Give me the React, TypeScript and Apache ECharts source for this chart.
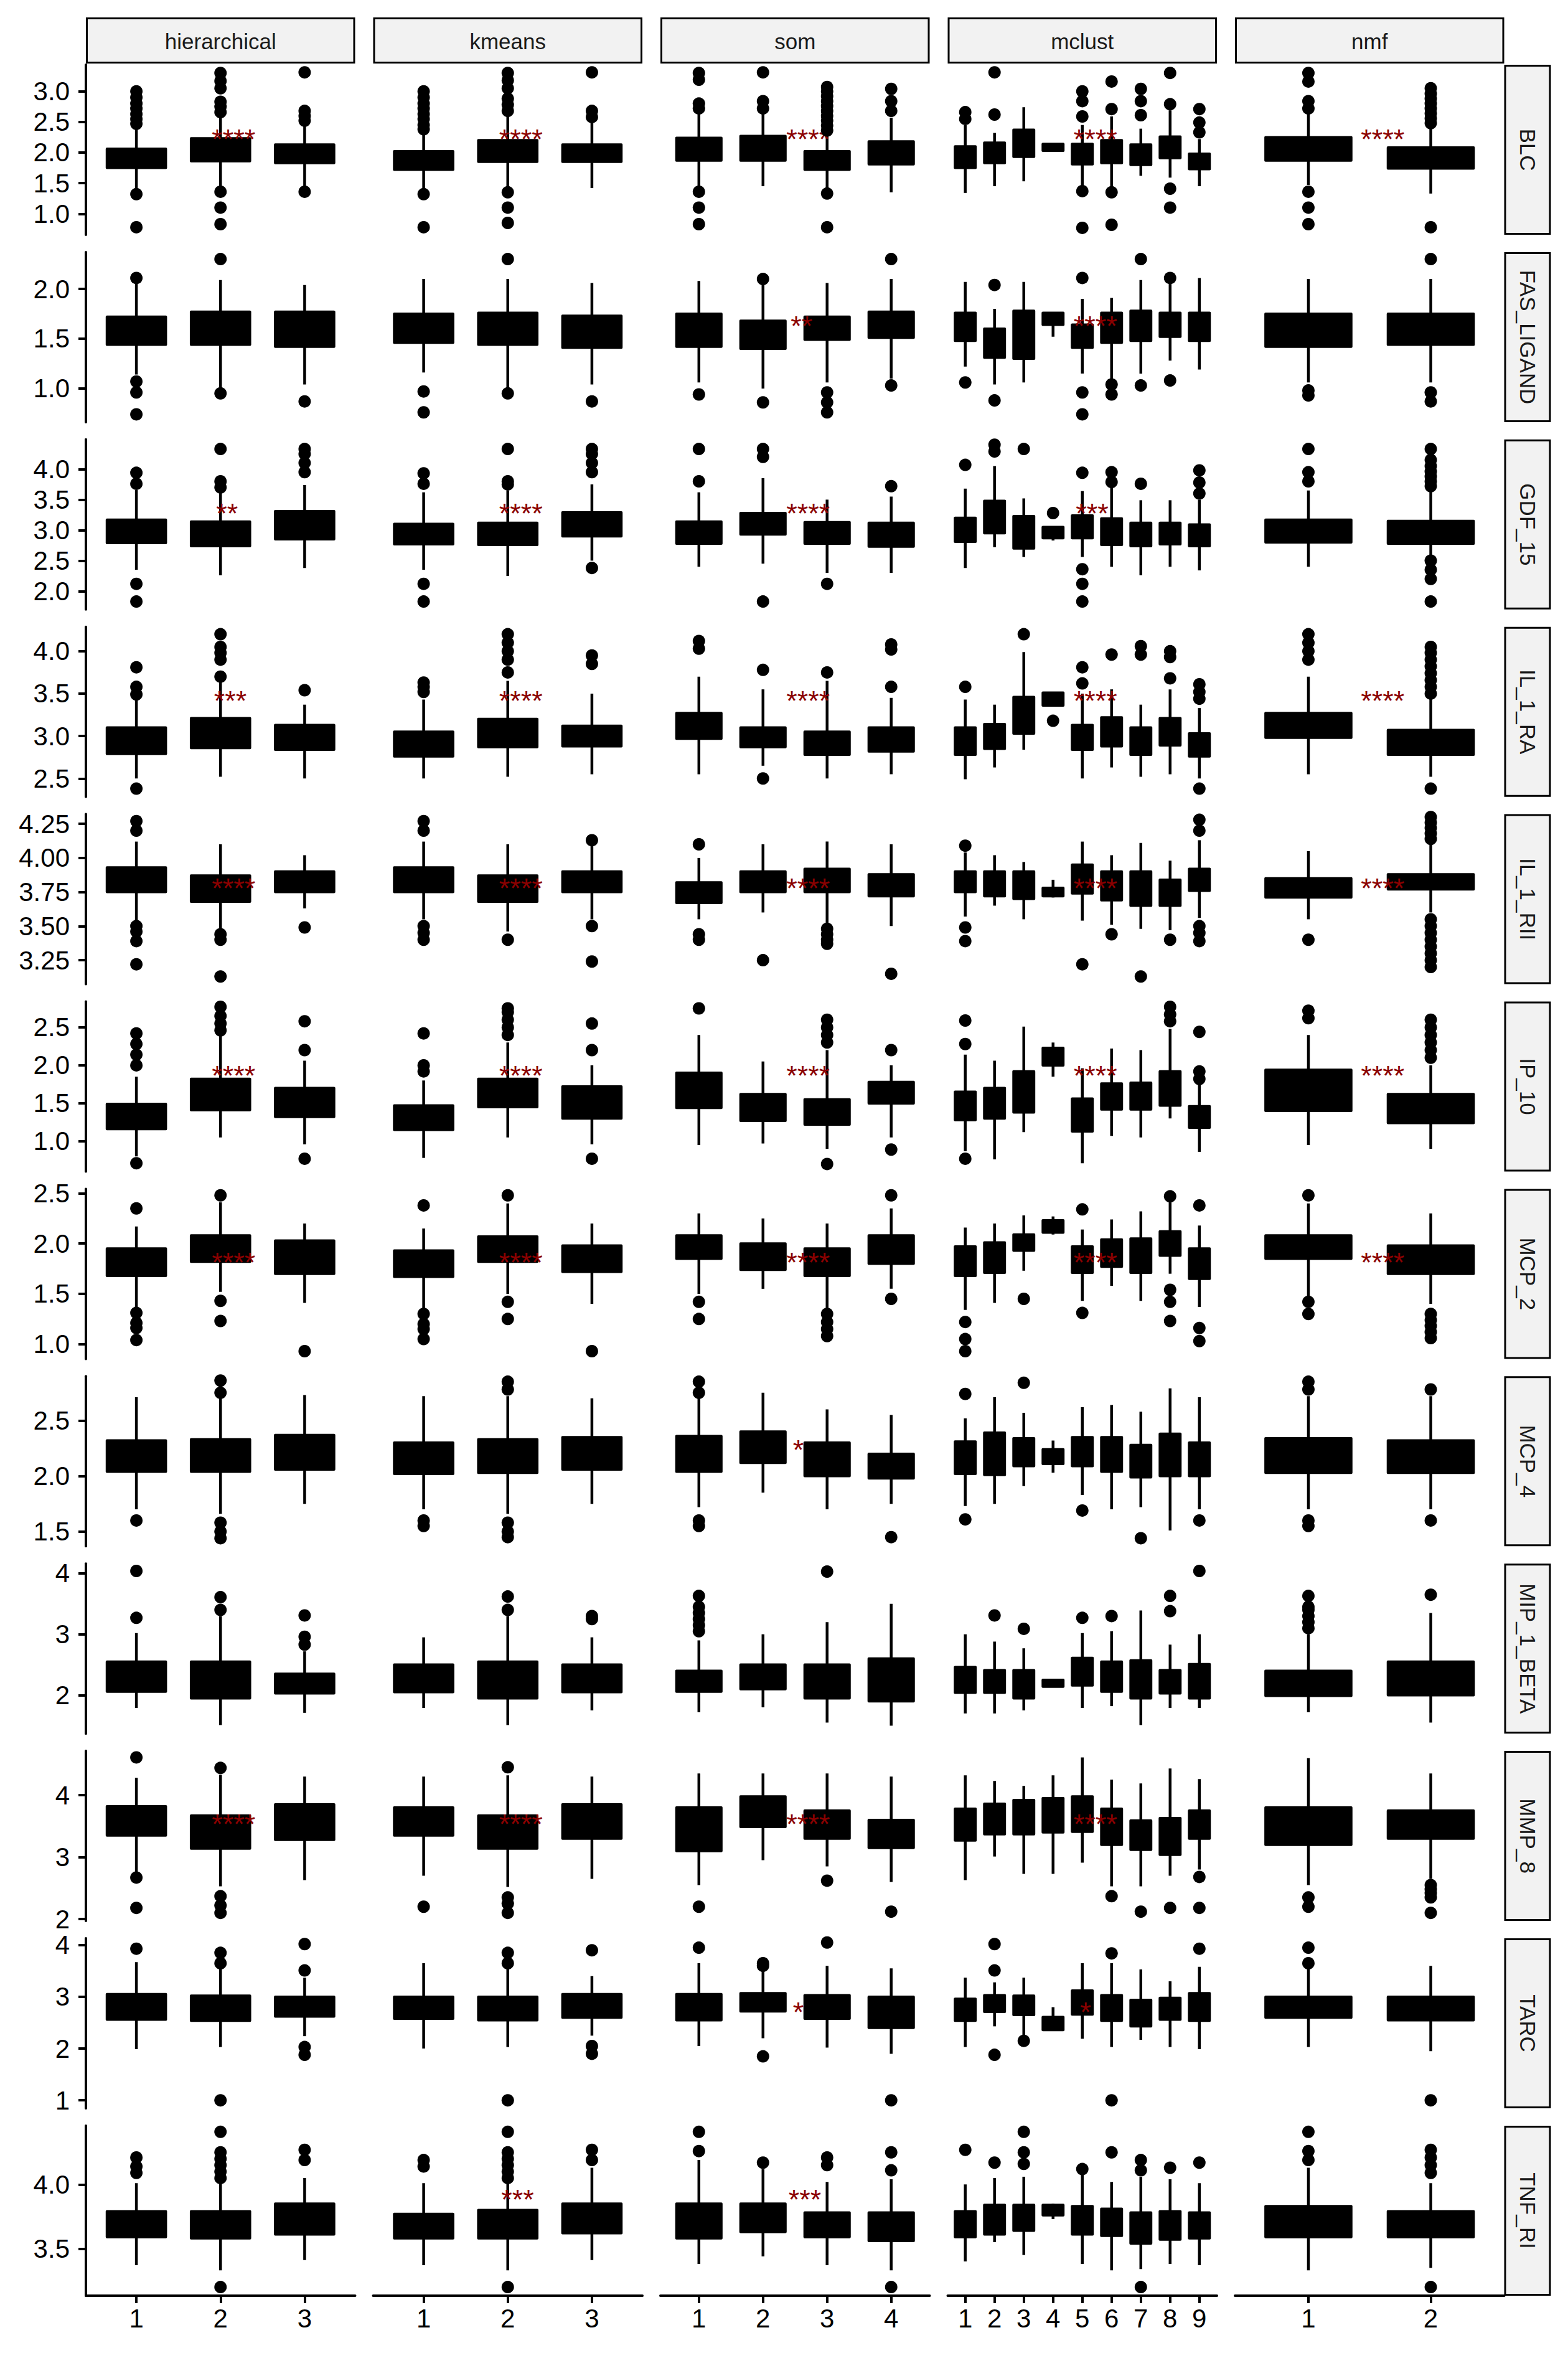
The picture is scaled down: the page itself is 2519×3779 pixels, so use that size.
import React, { useEffect, useRef } from "react";
import * as echarts from "echarts";

// ---------- categories ----------
const methods = ["hierarchical", "kmeans", "som", "mclust", "nmf"];
const groupCounts = [3, 3, 4, 9, 2];
const markers = ["BLC", "FAS_LIGAND", "GDF_15", "IL_1_RA", "IL_1_RII", "IP_10", "MCP_2", "MCP_4", "MIP_1_BETA", "MMP_8", "TARC", "TNF_RI"];

// ---------- y scales (per marker row) ----------
const yMin = [0.657, 0.662, 1.70, 2.284, 3.074, 0.601, 0.853, 1.368, 1.369, 1.970, 0.846, 3.133];
const yMax = [3.434, 2.370, 4.486, 4.287, 4.321, 2.840, 2.544, 2.899, 4.161, 4.714, 4.131, 4.458];
const yTicks = [
  [1.0, 1.5, 2.0, 2.5, 3.0],
  [1.0, 1.5, 2.0],
  [2.0, 2.5, 3.0, 3.5, 4.0],
  [2.5, 3.0, 3.5, 4.0],
  [3.25, 3.5, 3.75, 4.0, 4.25],
  [1.0, 1.5, 2.0, 2.5],
  [1.0, 1.5, 2.0, 2.5],
  [1.5, 2.0, 2.5],
  [2, 3, 4],
  [2, 3, 4],
  [1, 2, 3, 4],
  [3.5, 4.0],
];
const yDecimals = [1, 1, 1, 1, 2, 1, 1, 1, 0, 0, 0, 1];

// ---------- box stats: [lower whisker, Q1, Q3, upper whisker] per method / group ----------
const BLC_box = [
  [[1.42, 1.75, 2.06, 2.42], [1.45, 1.86, 2.23, 2.60], [1.43, 1.83, 2.13, 2.45]],
  [[1.40, 1.72, 2.02, 2.30], [1.45, 1.85, 2.20, 2.60], [1.42, 1.85, 2.13, 2.50]],
  [[1.45, 1.87, 2.24, 2.62], [1.45, 1.87, 2.27, 2.63], [1.43, 1.72, 2.02, 2.30], [1.35, 1.81, 2.18, 2.57]],
  [[1.34, 1.75, 2.10, 2.45], [1.45, 1.83, 2.16, 2.32], [1.53, 1.93, 2.37, 2.74], [2.02, 2.03, 2.14, 2.15], [1.45, 1.81, 2.14, 2.45], [1.43, 1.83, 2.20, 2.59], [1.62, 1.80, 2.13, 2.39], [1.59, 1.91, 2.26, 2.69], [1.45, 1.73, 1.98, 2.22]],
  [[1.47, 1.87, 2.25, 2.65], [1.33, 1.74, 2.08, 2.43]],
];
const BLC_out = [
  [[2.47, 2.55, 2.63, 2.72, 2.80, 2.90, 3.00, 1.32, 0.78], [2.66, 2.75, 2.83, 3.05, 3.17, 3.30, 1.36, 1.10, 0.83], [2.52, 2.60, 2.68, 3.31, 1.36]],
  [[2.38, 2.45, 2.55, 2.63, 2.72, 2.80, 2.90, 3.00, 1.32, 0.78], [2.68, 2.78, 2.88, 3.05, 3.18, 3.30, 1.35, 1.10, 0.85], [2.58, 2.68, 3.31]],
  [[2.72, 2.80, 3.19, 3.30, 1.36, 1.10, 0.83], [2.72, 2.84, 3.31], [2.36, 2.44, 2.52, 2.60, 2.68, 2.76, 2.84, 2.92, 3.00, 3.07, 1.33, 0.78], [2.68, 2.84, 3.04]],
  [[2.55, 2.66], [2.62, 3.31], [], [], [2.59, 2.84, 3.00, 1.37, 0.77], [2.71, 3.16, 1.35, 0.82], [2.61, 2.84, 3.04], [2.79, 3.30, 1.41, 1.10], [2.33, 2.49, 2.71]],
  [[2.72, 2.84, 3.16, 3.30, 1.36, 1.10, 0.83], [2.48, 2.56, 2.64, 2.72, 2.80, 2.88, 2.96, 3.05, 0.78]],
];

const FAS_box = [
  [[1.14, 1.44, 1.72, 2.06], [1.00, 1.44, 1.77, 2.09], [1.04, 1.42, 1.77, 2.04]],
  [[1.16, 1.46, 1.75, 2.10], [1.00, 1.44, 1.76, 2.10], [1.04, 1.41, 1.73, 2.06]],
  [[1.06, 1.42, 1.75, 2.08], [1.00, 1.40, 1.68, 2.05], [1.06, 1.49, 1.72, 2.06], [1.10, 1.51, 1.77, 2.10]],
  [[1.22, 1.48, 1.76, 2.07], [1.04, 1.31, 1.60, 1.80], [1.06, 1.30, 1.78, 2.07], [1.52, 1.64, 1.76, 1.76], [1.15, 1.41, 1.64, 1.90], [1.08, 1.46, 1.76, 1.91], [1.15, 1.48, 1.78, 2.09], [1.28, 1.52, 1.76, 2.05], [1.19, 1.48, 1.76, 2.11]],
  [[1.06, 1.42, 1.75, 2.10], [1.06, 1.44, 1.75, 2.10]],
];
const FAS_out = [
  [[2.11, 1.07, 0.96, 0.74], [2.30, 0.95], [0.87]],
  [[0.97, 0.76], [2.30, 0.95], [0.87]],
  [[0.94], [2.10, 0.86], [0.96, 0.86, 0.76], [2.30, 1.03]],
  [[1.06], [2.04, 0.88], [], [], [2.11, 0.96, 0.74], [1.04, 0.94], [2.30, 1.03], [2.11, 1.08], []],
  [[0.98, 0.93], [2.30, 0.96, 0.87]],
];

const GDF_box = [
  [[2.35, 2.79, 3.17, 3.66], [2.26, 2.74, 3.14, 3.66], [2.38, 2.85, 3.31, 3.74]],
  [[2.35, 2.77, 3.10, 3.62], [2.25, 2.76, 3.12, 3.65], [2.50, 2.90, 3.29, 3.75]],
  [[2.40, 2.78, 3.14, 3.62], [2.45, 2.93, 3.28, 3.85], [2.30, 2.78, 3.13, 3.50], [2.30, 2.73, 3.12, 3.55]],
  [[2.38, 2.81, 3.20, 3.68], [2.72, 2.95, 3.48, 4.05], [2.56, 2.70, 3.23, 3.52], [2.83, 2.87, 3.05, 3.05], [2.56, 2.87, 3.24, 3.64], [2.40, 2.76, 3.19, 3.70], [2.26, 2.74, 3.12, 3.49], [2.40, 2.77, 3.12, 3.49], [2.34, 2.74, 3.09, 3.50]],
  [[2.40, 2.80, 3.17, 3.65], [2.30, 2.78, 3.15, 3.65]],
];
const GDF_out = [
  [[3.76, 3.94, 2.12, 1.83], [3.70, 3.80, 4.33], [3.95, 4.10, 4.25, 4.33]],
  [[3.76, 3.93, 2.12, 1.83], [3.75, 3.80, 4.33], [3.95, 4.10, 4.25, 4.33, 2.38]],
  [[3.80, 4.33], [4.20, 4.33, 1.83], [2.12], [3.72]],
  [[4.07], [4.29, 4.40], [4.33], [3.28], [3.94, 2.36, 2.12, 1.83], [3.79, 3.95], [3.76], [], [3.60, 3.78, 3.98]],
  [[3.80, 3.95, 4.33], [3.72, 3.80, 3.88, 3.96, 4.05, 4.15, 4.33, 2.50, 2.35, 2.20, 1.83]],
];

const IL1RA_box = [
  [[2.50, 2.79, 3.10, 3.44], [2.52, 2.86, 3.21, 3.66], [2.50, 2.84, 3.13, 3.37]],
  [[2.50, 2.76, 3.05, 3.43], [2.52, 2.87, 3.20, 3.65], [2.55, 2.88, 3.12, 3.50]],
  [[2.55, 2.97, 3.27, 3.70], [2.65, 2.87, 3.10, 3.55], [2.50, 2.78, 3.05, 3.65], [2.55, 2.82, 3.10, 3.45]],
  [[2.49, 2.78, 3.10, 3.43], [2.63, 2.85, 3.14, 3.37], [2.84, 3.03, 3.46, 3.99], [3.36, 3.36, 3.51, 3.51], [2.50, 2.84, 3.13, 3.50], [2.63, 2.88, 3.22, 3.55], [2.52, 2.78, 3.10, 3.37], [2.55, 2.89, 3.21, 3.55], [2.50, 2.76, 3.03, 3.33]],
  [[2.55, 2.98, 3.27, 3.70], [2.52, 2.78, 3.07, 3.45]],
];
const IL1RA_out = [
  [[3.49, 3.58, 3.81, 2.38], [3.70, 3.90, 3.98, 4.05, 4.20], [3.54]],
  [[3.52, 3.58, 3.63], [3.75, 3.90, 4.00, 4.10, 4.20], [3.85, 3.95]],
  [[4.03, 4.12], [3.78, 2.50], [3.75], [3.58, 4.02, 4.08]],
  [[3.58], [], [4.20], [3.18], [3.62, 3.81], [3.96], [3.96, 4.06], [3.68, 3.93, 4.00], [3.44, 3.52, 3.61, 2.38]],
  [[3.90, 4.00, 4.10, 4.20], [3.50, 3.58, 3.66, 3.74, 3.82, 3.90, 3.98, 4.05, 2.38]],
];

const IL1RII_box = [
  [[3.54, 3.75, 3.93, 4.12], [3.47, 3.68, 3.87, 4.10], [3.63, 3.75, 3.90, 4.02]],
  [[3.55, 3.75, 3.93, 4.12], [3.46, 3.68, 3.87, 4.10], [3.55, 3.75, 3.90, 4.10]],
  [[3.55, 3.67, 3.82, 4.00], [3.60, 3.75, 3.90, 4.10], [3.52, 3.75, 3.92, 4.12], [3.50, 3.72, 3.88, 4.10]],
  [[3.57, 3.75, 3.90, 4.04], [3.65, 3.72, 3.90, 4.02], [3.55, 3.70, 3.90, 3.97], [3.71, 3.72, 3.78, 3.84], [3.54, 3.74, 3.95, 4.12], [3.51, 3.69, 3.90, 4.02], [3.48, 3.65, 3.90, 4.11], [3.47, 3.65, 3.84, 3.98], [3.56, 3.76, 3.92, 4.13]],
  [[3.55, 3.71, 3.85, 4.05], [3.60, 3.77, 3.88, 4.10]],
];
const IL1RII_out = [
  [[4.20, 4.27, 3.50, 3.46, 3.39, 3.22], [3.44, 3.40, 3.13], [3.49]],
  [[4.20, 4.27, 3.50, 3.45, 3.40], [3.40], [4.13, 3.50, 3.24]],
  [[4.10, 3.44, 3.40], [3.25], [3.48, 3.44, 3.40, 3.37], [3.15]],
  [[4.09, 3.49, 3.39], [], [], [], [3.22], [3.44], [3.13], [3.40], [4.20, 4.28, 3.50, 3.45, 3.39]],
  [[3.40], [4.14, 4.18, 4.22, 4.26, 4.30, 3.55, 3.50, 3.45, 3.40, 3.35, 3.30, 3.25, 3.20]],
];

const IP10_box = [
  [[0.80, 1.16, 1.49, 1.85], [1.05, 1.41, 1.82, 2.40], [0.96, 1.32, 1.70, 2.06]],
  [[0.78, 1.15, 1.47, 1.80], [1.05, 1.45, 1.82, 2.30], [0.96, 1.30, 1.72, 2.00]],
  [[0.95, 1.44, 1.90, 2.40], [0.97, 1.27, 1.62, 2.05], [0.90, 1.22, 1.55, 2.20], [1.05, 1.50, 1.78, 2.00]],
  [[0.87, 1.28, 1.65, 2.14], [0.76, 1.30, 1.70, 2.06], [1.12, 1.38, 1.92, 2.51], [1.85, 2.00, 2.23, 2.30], [0.71, 1.13, 1.56, 1.96], [1.07, 1.42, 1.76, 2.22], [1.05, 1.42, 1.77, 2.20], [1.30, 1.47, 1.92, 2.48], [0.86, 1.18, 1.46, 1.76]],
  [[0.95, 1.40, 1.94, 2.40], [0.90, 1.24, 1.62, 2.00]],
];
const IP10_out = [
  [[2.00, 2.14, 2.28, 2.42, 0.71], [2.46, 2.55, 2.65, 2.77], [2.20, 2.58, 0.77]],
  [[1.92, 2.00, 2.42], [2.40, 2.50, 2.60, 2.70, 2.75], [2.20, 2.55, 0.77]],
  [[2.75], [], [2.30, 2.40, 2.50, 2.60, 0.70], [2.20, 0.89]],
  [[2.28, 2.59, 0.77], [], [], [], [], [], [], [2.58, 2.67, 2.77], [1.82, 1.92, 2.44]],
  [[2.62, 2.72], [2.10, 2.20, 2.30, 2.40, 2.50, 2.60]],
];

const MCP2_box = [
  [[1.35, 1.68, 1.95, 2.17], [1.52, 1.82, 2.08, 2.41], [1.41, 1.70, 2.03, 2.20]],
  [[1.33, 1.67, 1.93, 2.15], [1.50, 1.82, 2.07, 2.40], [1.40, 1.72, 1.98, 2.20]],
  [[1.50, 1.85, 2.08, 2.30], [1.55, 1.74, 2.00, 2.25], [1.35, 1.68, 1.95, 2.20], [1.55, 1.80, 2.08, 2.35]],
  [[1.34, 1.68, 1.97, 2.16], [1.41, 1.71, 2.01, 2.20], [1.73, 1.93, 2.09, 2.28], [2.09, 2.11, 2.23, 2.27], [1.43, 1.71, 1.97, 2.14], [1.58, 1.77, 2.04, 2.24], [1.43, 1.71, 2.05, 2.32], [1.70, 1.88, 2.12, 2.41], [1.37, 1.65, 1.95, 2.18]],
  [[1.48, 1.85, 2.08, 2.40], [1.40, 1.70, 1.98, 2.30]],
];
const MCP2_out = [
  [[2.35, 1.31, 1.21, 1.16, 1.04], [2.48, 1.43, 1.23], [0.93]],
  [[2.38, 1.30, 1.20, 1.15, 1.05], [2.48, 1.42, 1.25], [0.93]],
  [[1.42, 1.25], [], [1.30, 1.22, 1.15, 1.08], [2.48, 1.45]],
  [[1.22, 1.05, 0.93], [], [1.45], [], [2.34, 1.31], [], [], [2.47, 1.54, 1.42, 1.23], [2.38, 1.16, 1.03]],
  [[2.48, 1.42, 1.30], [1.30, 1.24, 1.18, 1.12, 1.06]],
];

const MCP4_box = [
  [[1.70, 2.04, 2.32, 2.71], [1.66, 2.04, 2.33, 2.71], [1.75, 2.06, 2.37, 2.73]],
  [[1.70, 2.02, 2.30, 2.72], [1.66, 2.03, 2.33, 2.72], [1.75, 2.06, 2.35, 2.70]],
  [[1.72, 2.04, 2.36, 2.70], [1.85, 2.12, 2.40, 2.75], [1.70, 2.00, 2.30, 2.60], [1.75, 1.98, 2.20, 2.55]],
  [[1.73, 2.02, 2.31, 2.52], [1.75, 2.01, 2.39, 2.71], [1.91, 2.09, 2.34, 2.57], [2.03, 2.11, 2.24, 2.32], [1.83, 2.09, 2.35, 2.62], [1.70, 2.04, 2.35, 2.64], [1.72, 1.99, 2.28, 2.58], [1.51, 2.00, 2.38, 2.79], [1.70, 2.00, 2.30, 2.71]],
  [[1.70, 2.03, 2.34, 2.72], [1.70, 2.03, 2.32, 2.72]],
];
const MCP4_out = [
  [[1.60], [2.75, 2.86, 1.58, 1.50, 1.44], []],
  [[1.60, 1.55], [2.78, 2.85, 1.58, 1.50, 1.45], []],
  [[2.75, 2.85, 1.60, 1.55], [], [], [1.45]],
  [[2.74, 1.61], [], [2.84], [], [1.69], [], [1.44], [], [1.60]],
  [[2.78, 2.85, 1.60, 1.55], [2.78, 1.60]],
];

const MIP_box = [
  [[1.79, 2.06, 2.55, 3.02], [1.51, 1.95, 2.55, 3.30], [1.71, 2.03, 2.35, 2.72]],
  [[1.79, 2.05, 2.50, 2.95], [1.51, 1.95, 2.55, 3.30], [1.75, 2.05, 2.50, 2.95]],
  [[1.72, 2.06, 2.40, 2.90], [1.80, 2.10, 2.50, 3.00], [1.55, 1.95, 2.50, 3.20], [1.50, 1.90, 2.60, 3.50]],
  [[1.70, 2.04, 2.46, 3.00], [1.70, 2.04, 2.41, 2.88], [1.75, 1.95, 2.41, 2.77], [2.14, 2.14, 2.25, 2.25], [1.79, 2.16, 2.61, 3.02], [1.82, 2.06, 2.55, 3.05], [1.51, 1.95, 2.57, 3.39], [1.79, 2.03, 2.41, 2.83], [1.79, 1.95, 2.51, 3.00]],
  [[1.72, 1.99, 2.40, 3.00], [1.55, 2.00, 2.55, 3.35]],
];
const MIP_out = [
  [[3.27, 4.04], [3.40, 3.61], [2.83, 2.96, 3.31]],
  [[], [3.40, 3.62], [3.25, 3.30]],
  [[3.05, 3.15, 3.25, 3.35, 3.45, 3.63], [], [4.03], []],
  [[], [3.31], [3.09], [], [3.27], [3.30], [], [3.38, 3.63], [4.04]],
  [[3.10, 3.20, 3.30, 3.40, 3.45, 3.63], [3.65]],
];

const MMP8_box = [
  [[2.70, 3.35, 3.82, 4.28], [2.53, 3.14, 3.67, 4.33], [2.63, 3.28, 3.85, 4.30]],
  [[2.70, 3.35, 3.80, 4.30], [2.52, 3.14, 3.67, 4.32], [2.65, 3.30, 3.85, 4.30]],
  [[2.55, 3.10, 3.80, 4.35], [2.95, 3.49, 3.98, 4.35], [2.85, 3.30, 3.75, 4.35], [2.60, 3.15, 3.60, 4.30]],
  [[2.63, 3.27, 3.78, 4.32], [3.01, 3.37, 3.86, 4.23], [2.73, 3.37, 3.92, 4.15], [2.73, 3.40, 3.95, 4.32], [2.91, 3.41, 3.98, 4.61], [2.53, 3.20, 3.78, 4.25], [2.53, 3.12, 3.59, 4.19], [2.70, 3.04, 3.63, 4.43], [2.80, 3.30, 3.75, 4.26]],
  [[2.55, 3.20, 3.80, 4.60], [2.65, 3.30, 3.75, 4.35]],
];
const MMP8_out = [
  [[4.61, 2.67, 2.18], [4.44, 2.37, 2.22, 2.10], []],
  [[2.20], [4.45, 2.35, 2.25, 2.10], []],
  [[2.20], [], [2.62], [2.12]],
  [[], [], [], [], [], [2.37], [2.12], [2.18], [2.68, 2.18]],
  [[2.35, 2.20], [2.55, 2.48, 2.42, 2.35, 2.10]],
];

const TARC_box = [
  [[1.99, 2.56, 3.05, 3.67], [2.03, 2.54, 3.02, 3.56], [2.24, 2.62, 3.00, 3.37]],
  [[2.00, 2.58, 3.00, 3.65], [2.03, 2.55, 3.00, 3.55], [2.25, 2.60, 3.05, 3.40]],
  [[2.05, 2.55, 3.05, 3.65], [2.20, 2.72, 3.07, 3.50], [2.02, 2.58, 3.03, 3.60], [1.90, 2.40, 3.00, 3.55]],
  [[2.03, 2.54, 2.96, 3.37], [2.43, 2.71, 3.03, 3.28], [2.13, 2.65, 3.02, 3.37], [2.36, 2.36, 2.61, 2.80], [2.19, 2.66, 3.12, 3.65], [2.03, 2.54, 3.03, 3.65], [2.17, 2.43, 2.94, 3.53], [2.03, 2.56, 2.98, 3.30], [1.99, 2.54, 3.07, 3.58]],
  [[2.03, 2.60, 3.00, 3.55], [1.95, 2.55, 3.00, 3.60]],
];
const TARC_out = [
  [[3.93], [3.65, 3.85, 1.00], [3.51, 4.02, 2.03, 1.88]],
  [[], [3.65, 3.85, 1.00], [3.90, 2.05, 1.90]],
  [[3.95], [3.60, 3.65, 1.85], [4.05], [1.00]],
  [[], [3.51, 4.02, 1.88], [2.15], [], [], [3.84, 1.00], [], [], [3.93]],
  [[3.65, 3.95], [1.00]],
];

const TNF_box = [
  [[3.37, 3.59, 3.79, 4.01], [3.33, 3.58, 3.79, 4.04], [3.41, 3.61, 3.85, 4.05]],
  [[3.37, 3.58, 3.77, 4.01], [3.33, 3.58, 3.80, 4.04], [3.41, 3.62, 3.85, 4.13]],
  [[3.38, 3.58, 3.85, 4.19], [3.44, 3.63, 3.85, 4.12], [3.37, 3.59, 3.78, 4.02], [3.33, 3.56, 3.78, 4.04]],
  [[3.40, 3.59, 3.79, 4.00], [3.55, 3.61, 3.84, 4.05], [3.45, 3.64, 3.84, 4.06], [3.73, 3.76, 3.84, 3.85], [3.38, 3.61, 3.83, 4.08], [3.33, 3.60, 3.81, 4.02], [3.34, 3.54, 3.78, 4.06], [3.38, 3.57, 3.79, 4.04], [3.37, 3.58, 3.78, 4.01]],
  [[3.33, 3.59, 3.83, 4.13], [3.35, 3.59, 3.79, 4.01]],
];
const TNF_out = [
  [[4.09, 4.14, 4.21], [4.05, 4.10, 4.15, 4.20, 4.25, 4.41, 3.20], [4.19, 4.27]],
  [[4.14, 4.19], [4.05, 4.10, 4.15, 4.20, 4.25, 4.41, 3.20], [4.19, 4.27]],
  [[4.26, 4.41], [4.17], [4.15, 4.21], [4.11, 4.25, 3.20]],
  [[4.27], [4.17], [4.16, 4.25, 4.41], [], [4.12], [4.25], [4.11, 4.19, 3.20], [4.13], [4.17]],
  [[4.19, 4.26, 4.41], [4.09, 4.15, 4.21, 4.27, 3.20]],
];

const boxRows = [BLC_box, FAS_box, GDF_box, IL1RA_box, IL1RII_box, IP10_box, MCP2_box, MCP4_box, MIP_box, MMP8_box, TARC_box, TNF_box];
const outRows = [BLC_out, FAS_out, GDF_out, IL1RA_out, IL1RII_out, IP10_out, MCP2_out, MCP4_out, MIP_out, MMP8_out, TARC_out, TNF_out];

// ---------- significance labels ----------
const starLabels = [
  ["****", "****", "****", "****", "****"],
  ["", "", "**", "****", ""],
  ["**", "****", "****", "***", ""],
  ["***", "****", "****", "****", "****"],
  ["****", "****", "****", "****", "****"],
  ["****", "****", "****", "****", "****"],
  ["****", "****", "****", "****", "****"],
  ["", "", "*", "", ""],
  ["", "", "", "", ""],
  ["****", "****", "****", "****", ""],
  ["", "", "*", "*", ""],
  ["", "***", "***", "", ""],
];
const starY = [2.32, 1.69, 3.38, 3.49, 3.825, 1.945, 1.877, 2.29, 3.0, 3.63, 2.83, 3.93];

// ---------- layout ----------
const W = 2519;
const H = 3779;
const PL = 138;
const SX = 461.5;
const PW = 432.5;
const PT = 104;
const SY = 300.9;
const PH = 273;
const FONT = '"Liberation Sans", Arial, Helvetica, sans-serif';

function buildOption() {
  const grid: any[] = [];
  const xAxis: any[] = [];
  const yAxis: any[] = [];
  const series: any[] = [];
  const graphic: any[] = [];

  for (let r = 0; r < markers.length; r++) {
    for (let c = 0; c < methods.length; c++) {
      const idx = r * methods.length + c;
      const left = PL + c * SX;
      const top = PT + r * SY;
      const n = groupCounts[c];
      const xt = Array.from({ length: n }, (_, i) => i + 1);
      const bottom = r === markers.length - 1;
      const first = c === 0;
      grid.push({ left, top, width: PW, height: PH, containLabel: false });
      xAxis.push({
        gridIndex: idx,
        type: "value",
        min: 0.4,
        max: n + 0.6,
        show: bottom,
        axisLine: { show: bottom, onZero: false, lineStyle: { color: "#000", width: 4 } },
        axisTick: { show: bottom, customValues: xt, length: 12, lineStyle: { color: "#000", width: 4 } },
        axisLabel: {
          show: bottom,
          customValues: xt,
          formatter: (v: number) => String(Math.round(v)),
          fontSize: 42,
          fontFamily: FONT,
          color: "#000",
          margin: 16,
        },
        splitLine: { show: false },
      });
      const dec = yDecimals[r];
      yAxis.push({
        gridIndex: idx,
        type: "value",
        min: yMin[r],
        max: yMax[r],
        show: first,
        axisLine: { show: first, onZero: false, lineStyle: { color: "#000", width: 4 } },
        axisTick: { show: first, customValues: yTicks[r], length: 12, lineStyle: { color: "#000", width: 4 } },
        axisLabel: {
          show: first,
          customValues: yTicks[r],
          formatter: (v: number) => v.toFixed(dec),
          fontSize: 42,
          fontFamily: FONT,
          color: "#000",
          margin: 26,
        },
        splitLine: { show: false },
      });

      const boxes = boxRows[r][c];
      series.push({
        type: "custom",
        xAxisIndex: idx,
        yAxisIndex: idx,
        silent: true,
        clip: false,
        data: boxes.map((b: number[], g: number) => [g + 1, b[0], b[1], b[2], b[3]]),
        encode: { x: 0, y: [1, 2, 3, 4] },
        renderItem: (params: any, api: any) => {
          const x = api.value(0);
          const lo = api.coord([x, api.value(1)]);
          const q1 = api.coord([x, api.value(2)]);
          const q3 = api.coord([x, api.value(3)]);
          const hi = api.coord([x, api.value(4)]);
          const half = api.size([0.35, 0])[0];
          return {
            type: "group",
            children: [
              { type: "line", shape: { x1: lo[0], y1: lo[1], x2: hi[0], y2: hi[1] }, style: { stroke: "#000", lineWidth: 4.5 } },
              {
                type: "rect",
                shape: { x: q3[0] - half, y: q3[1], width: half * 2, height: Math.max(q1[1] - q3[1], 0.5) },
                style: { fill: "#000", stroke: "#000", lineWidth: 4, lineJoin: "round" },
              },
            ],
          };
        },
      });

      const outs: number[][] = outRows[r][c];
      const pts: number[][] = [];
      outs.forEach((vals, g) => vals.forEach((v) => pts.push([g + 1, v])));
      series.push({
        type: "scatter",
        xAxisIndex: idx,
        yAxisIndex: idx,
        silent: true,
        symbol: "circle",
        symbolSize: 20,
        itemStyle: { color: "#000", opacity: 1 },
        data: pts,
      });

      const label = starLabels[r][c];
      if (label) {
        series.push({
          type: "custom",
          xAxisIndex: idx,
          yAxisIndex: idx,
          silent: true,
          clip: false,
          data: [[(n + 1) / 2, starY[r]]],
          encode: { x: 0, y: 1 },
          renderItem: (params: any, api: any) => {
            const p = api.coord([api.value(0), api.value(1)]);
            const w = label.length * 17.5;
            return {
              type: "text",
              x: p[0] - 0.2 * w,
              y: p[1] + 10,
              style: { text: label, fill: "#8B0000", font: `45px ${FONT}`, align: "left", verticalAlign: "middle" },
            };
          },
        });
      }
    }
  }

  // column strips
  methods.forEach((m, c) => {
    const left = PL + c * SX;
    graphic.push({
      type: "rect",
      shape: { x: left + 1.5, y: 29.5, width: PW - 3, height: 71 },
      style: { fill: "#F2F2F2", stroke: "#000", lineWidth: 3 },
      silent: true,
    });
    graphic.push({
      type: "text",
      x: left + PW / 2,
      y: 66,
      style: { text: m, font: `35px ${FONT}`, fill: "#1A1A1A", align: "center", verticalAlign: "middle" },
      silent: true,
    });
  });

  // row strips
  const stripX = PL + 4 * SX + PW;
  markers.forEach((mk, r) => {
    const top = PT + r * SY;
    graphic.push({
      type: "rect",
      shape: { x: stripX + 1.5, y: top + 1.5, width: 72, height: PH - 3 },
      style: { fill: "#F2F2F2", stroke: "#000", lineWidth: 3 },
      silent: true,
    });
    graphic.push({
      type: "text",
      x: stripX + 37.5,
      y: top + PH / 2,
      rotation: -Math.PI / 2,
      style: { text: mk, font: `35px ${FONT}`, fill: "#1A1A1A", align: "center", verticalAlign: "middle" },
      silent: true,
    });
  });

  return {
    animation: false,
    backgroundColor: "#FFFFFF",
    grid,
    xAxis,
    yAxis,
    series,
    graphic,
  };
}

export default function App() {
  const ref = useRef<HTMLDivElement>(null);
  useEffect(() => {
    document.body.style.margin = "0";
    const chart = echarts.init(ref.current as HTMLDivElement, null, { renderer: "svg" });
    chart.setOption(buildOption() as any);
    return () => {
      chart.dispose();
    };
  }, []);
  return <div ref={ref} style={{ position: "absolute", left: 0, top: 0, width: W, height: H }} />;
}
